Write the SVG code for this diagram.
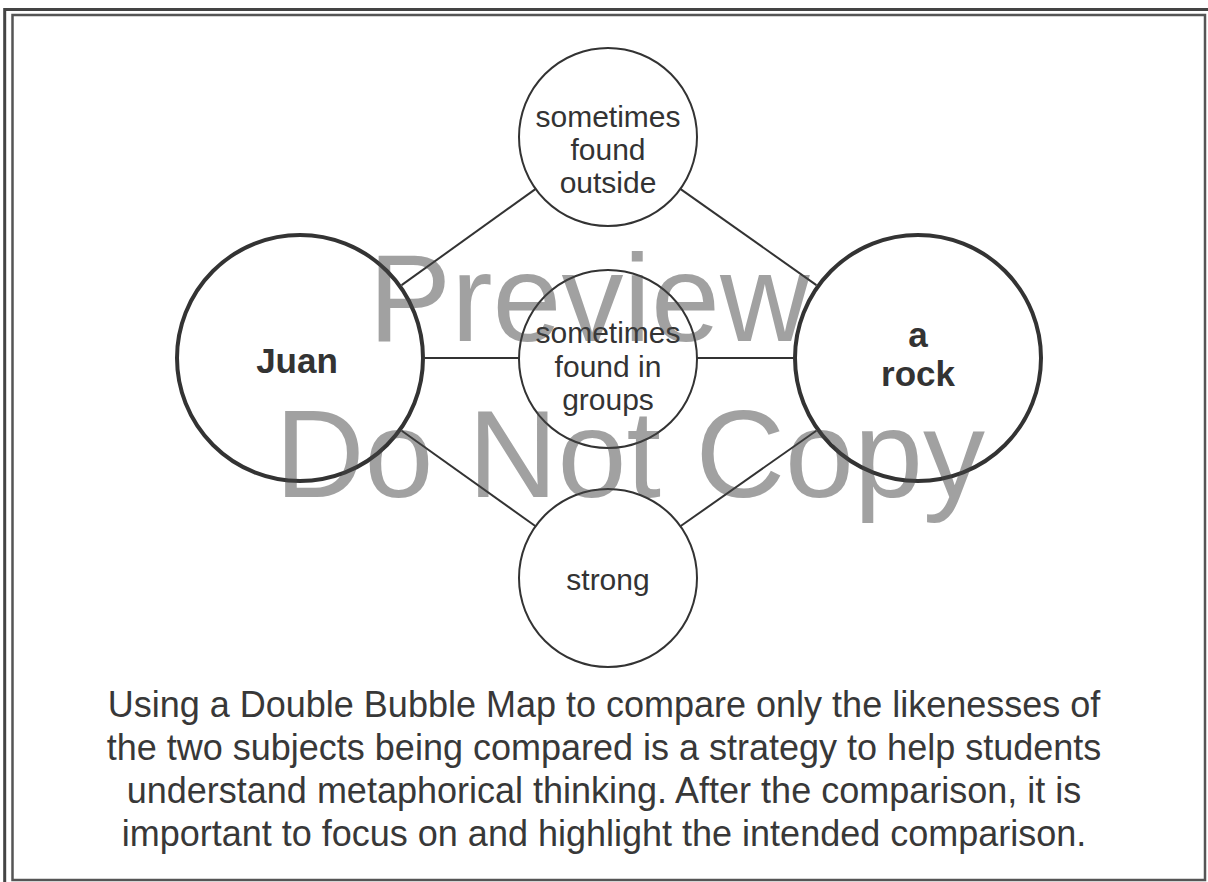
<svg xmlns="http://www.w3.org/2000/svg" width="1208" height="882" viewBox="0 0 1208 882">
  <style>
    .frame-outer { fill: none; stroke: #444; stroke-width: 3; }
    .frame-inner { fill: none; stroke: #555; stroke-width: 2.5; }
    .link { stroke: #333; stroke-width: 2; fill: none; }
    .subject { fill: #fff; stroke: #333; stroke-width: 4; }
    .shared { fill: #fff; stroke: #333; stroke-width: 2; }
    .label { font-family: "Liberation Sans", Arial, sans-serif; font-size: 30px; fill: #333; text-anchor: middle; }
    .title { font-family: "Liberation Sans", Arial, sans-serif; font-size: 35px; font-weight: bold; fill: #333; text-anchor: middle; }
    .caption { font-family: "Liberation Sans", Arial, sans-serif; font-size: 36px; fill: #383838; text-anchor: middle; }
    .mark { font-family: "Liberation Sans", Arial, sans-serif; font-size: 124px; fill: #444; fill-opacity: 0.5; text-anchor: middle; }
  </style>

  <rect width="1208" height="882" fill="#fff"/>
  <rect class="frame-outer" x="4.7" y="9.5" width="1215" height="885"/>
  <rect class="frame-inner" x="12.5" y="15" width="1192.5" height="865"/>

  <!-- connectors between the two subjects and the shared qualities -->
  <g id="connectors">
    <line class="link" x1="401.6" y1="285.1" x2="535.7" y2="188.9"/>
    <line class="link" x1="680.3" y1="188.9" x2="816.4" y2="285.1"/>
    <line class="link" x1="425" y1="358" x2="519" y2="358"/>
    <line class="link" x1="697" y1="358" x2="793" y2="358"/>
    <line class="link" x1="401.7" y1="430.7" x2="535.6" y2="526.3"/>
    <line class="link" x1="680.4" y1="526.3" x2="816.3" y2="430.7"/>
  </g>

  <g id="juan">
    <circle class="subject" cx="300" cy="358" r="123"/>
    <text class="title" x="297" y="373">Juan</text>
  </g>

  <g id="rock">
    <circle class="subject" cx="918" cy="358" r="123"/>
    <text class="title" x="918" y="347">a</text>
    <text class="title" x="918" y="386">rock</text>
  </g>

  <g id="outside">
    <circle class="shared" cx="608" cy="137" r="89"/>
    <text class="label" x="608" y="127">sometimes</text>
    <text class="label" x="608" y="160">found</text>
    <text class="label" x="608" y="193">outside</text>
  </g>

  <g id="groups">
    <circle class="shared" cx="608" cy="359" r="89"/>
    <text class="label" x="608" y="343">sometimes</text>
    <text class="label" x="608" y="377">found in</text>
    <text class="label" x="608" y="410">groups</text>
  </g>

  <g id="strong">
    <circle class="shared" cx="608" cy="578" r="89"/>
    <text class="label" x="608" y="590">strong</text>
  </g>

  <g id="caption">
    <text class="caption" x="604" y="717">Using a Double Bubble Map to compare only the likenesses of</text>
    <text class="caption" x="604" y="760">the two subjects being compared is a strategy to help students</text>
    <text class="caption" x="604" y="803">understand metaphorical thinking. After the comparison, it is</text>
    <text class="caption" x="604" y="846">important to focus on and highlight the intended comparison.</text>
  </g>

  <g id="watermark">
    <text class="mark" x="589" y="341">Preview</text>
    <text class="mark" x="630" y="497">Do Not Copy</text>
  </g>
</svg>
